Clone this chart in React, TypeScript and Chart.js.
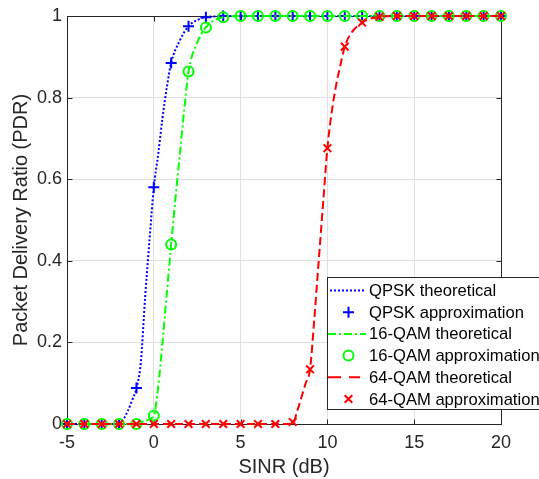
import React, { useEffect, useRef } from 'react';
import { Chart, registerables } from 'chart.js';

Chart.register(...registerables);

// ---------- data ----------
const sinr = [-5, -4, -3, -2, -1, 0, 1, 2, 3, 4, 5, 6, 7, 8, 9, 10, 11, 12, 13, 14, 15, 16, 17, 18, 19, 20];

const qpskApprox = [0, 0, 0, 0, 0.088, 0.58, 0.885, 0.975, 0.997, 1, 1, 1, 1, 1, 1, 1, 1, 1, 1, 1, 1, 1, 1, 1, 1, 1];
const qam16Approx = [0, 0, 0, 0, 0, 0.02, 0.44, 0.864, 0.972, 0.997, 1, 1, 1, 1, 1, 1, 1, 1, 1, 1, 1, 1, 1, 1, 1, 1];
const qam64Approx = [0, 0, 0, 0, 0, 0, 0, 0, 0, 0, 0, 0, 0, 0.005, 0.134, 0.676, 0.925, 0.984, 0.998, 1, 1, 1, 1, 1, 1, 1];

const qpskTheoX = [-5, -4, -3, -2, -1.75, -1.5, -1.25, -1, -0.75, -0.5, -0.25, 0, 0.25, 0.5, 0.75, 1, 1.5, 2, 2.5, 3, 3.5, 4, 5, 10, 15, 20];
const qpskTheoY = [0, 0, 0, 0, 0.012, 0.032, 0.058, 0.088, 0.15, 0.31, 0.45, 0.58, 0.66, 0.75, 0.825, 0.885, 0.94, 0.975, 0.99, 0.997, 0.999, 1, 1, 1, 1, 1];

const qam16TheoX = [-5, -4, -3, -2, -1, -0.5, 0, 0.25, 0.5, 0.75, 1, 1.25, 1.5, 1.75, 2, 2.5, 3, 3.5, 4, 5, 10, 15, 20];
const qam16TheoY = [0, 0, 0, 0, 0, 0.008, 0.02, 0.09, 0.2, 0.32, 0.44, 0.555, 0.66, 0.77, 0.864, 0.935, 0.972, 0.99, 0.997, 1, 1, 1, 1];

const qam64TheoX = [-5, 0, 5, 8, 8.25, 8.5, 8.75, 9, 9.25, 9.5, 9.75, 10, 10.25, 10.5, 10.75, 11, 11.25, 11.5, 12, 12.5, 13, 14, 15, 20];
const qam64TheoY = [0, 0, 0, 0, 0.03, 0.065, 0.1, 0.134, 0.26, 0.4, 0.54, 0.676, 0.765, 0.83, 0.88, 0.925, 0.95, 0.965, 0.984, 0.994, 0.998, 1, 1, 1];

const xTicks = [-5, 0, 5, 10, 15, 20];
const yTicks = [0, 0.2, 0.4, 0.6, 0.8, 1];

const seriesLabels = [
  'QPSK theoretical',
  'QPSK approximation',
  '16-QAM theoretical',
  '16-QAM approximation',
  '64-QAM theoretical',
  '64-QAM approximation',
];

const xTitle = 'SINR (dB)';
const yTitle = 'Packet Delivery Ratio (PDR)';

// ---------- styles ----------
const BLUE = '#0000ff';
const GREEN = '#00ff00';
const RED = '#ff0000';
const AXIS = '#262626';
const FONT = "'Liberation Sans', Arial, Helvetica, sans-serif";

const toXY = (xs: number[], ys: number[]) => xs.map((x, i) => ({ x, y: ys[i] }));

function drawMarker(ctx: CanvasRenderingContext2D, kind: string, x: number, y: number, color: string) {
  ctx.save();
  ctx.strokeStyle = color;
  ctx.lineWidth = 2;
  ctx.beginPath();
  if (kind === 'cross') {
    const r = 5.5;
    ctx.moveTo(x - r, y); ctx.lineTo(x + r, y);
    ctx.moveTo(x, y - r); ctx.lineTo(x, y + r);
  } else if (kind === 'circle') {
    ctx.arc(x, y, 5, 0, Math.PI * 2);
  } else {
    const r = 3.8;
    ctx.moveTo(x - r, y - r); ctx.lineTo(x + r, y + r);
    ctx.moveTo(x - r, y + r); ctx.lineTo(x + r, y - r);
  }
  ctx.stroke();
  ctx.restore();
}

const boxPlugin = {
  id: 'matlabBox',
  beforeDatasetsDraw(chart: any) {
    const { ctx, scales } = chart;
    const xs = scales.x;
    const ys = scales.y;
    const L = Math.round(xs.getPixelForValue(xTicks[0])) + 0.5;
    const R = Math.round(xs.getPixelForValue(xTicks[xTicks.length - 1])) + 0.5;
    const B = Math.round(ys.getPixelForValue(yTicks[0])) + 0.5;
    const T = Math.round(ys.getPixelForValue(yTicks[yTicks.length - 1])) + 0.5;
    ctx.save();
    ctx.strokeStyle = AXIS;
    ctx.lineWidth = 1;
    ctx.strokeRect(L, T, R - L, B - T);
    ctx.beginPath();
    const tl = 5;
    xTicks.forEach((v) => {
      const p = Math.round(xs.getPixelForValue(v)) + 0.5;
      ctx.moveTo(p, B); ctx.lineTo(p, B - tl);
      ctx.moveTo(p, T); ctx.lineTo(p, T + tl);
    });
    yTicks.forEach((v) => {
      const p = Math.round(ys.getPixelForValue(v)) + 0.5;
      ctx.moveTo(L, p); ctx.lineTo(L + tl, p);
      ctx.moveTo(R, p); ctx.lineTo(R - tl, p);
    });
    ctx.stroke();
    ctx.restore();
  },
};

const legendPlugin = {
  id: 'matlabLegend',
  afterDraw(chart: any) {
    const { ctx } = chart;
    const left = 327.5;
    const top = 277.5;
    const bottom = 409.5;
    const rowH = 21.7;
    const firstRow = 290.5;
    ctx.save();
    ctx.fillStyle = '#ffffff';
    ctx.fillRect(left, top, 400, bottom - top);
    ctx.strokeStyle = AXIS;
    ctx.lineWidth = 1;
    ctx.strokeRect(left, top, 400, bottom - top);

    chart.data.datasets.forEach((ds: any, i: number) => {
      const y = firstRow + i * rowH;
      if (ds.showLine !== false) {
        ctx.save();
        ctx.strokeStyle = ds.borderColor;
        ctx.lineWidth = 2;
        let dash = ds.borderDash || [];
        let x0 = 330;
        let x1 = 366;
        if (ds.label.startsWith('64')) { dash = [13, 8]; x0 = 328; x1 = 360; }
        if (ds.label.startsWith('16')) { x0 = 328; }
        ctx.setLineDash(dash);
        ctx.beginPath();
        ctx.moveTo(x0, y);
        ctx.lineTo(x1, y);
        ctx.stroke();
        ctx.restore();
      } else {
        drawMarker(ctx, ds.pointStyle === 'cross' ? 'cross' : ds.pointStyle === 'circle' ? 'circle' : 'x', 348.5, y, ds.borderColor);
      }
      ctx.fillStyle = '#000000';
      ctx.font = `16.6px ${FONT}`;
      ctx.textBaseline = 'middle';
      ctx.textAlign = 'left';
      ctx.fillText(ds.label, 369, y + 1);
    });
    ctx.restore();
  },
};

export default function App() {
  const canvasRef = useRef<HTMLCanvasElement | null>(null);

  useEffect(() => {
    const canvas = canvasRef.current;
    if (!canvas) return;

    const lineCommon = {
      showLine: true,
      pointRadius: 0,
      borderWidth: 2,
      fill: false,
      cubicInterpolationMode: 'monotone' as const,
      clip: false as const,
    };
    const markerCommon = {
      showLine: false,
      pointBorderWidth: 2,
      pointBackgroundColor: 'rgba(0,0,0,0)',
      clip: false as const,
    };

    const chart = new Chart(canvas, {
      type: 'scatter',
      data: {
        datasets: [
          { ...lineCommon, label: seriesLabels[0], data: toXY(qpskTheoX, qpskTheoY), borderColor: BLUE, borderDash: [2, 2], order: 0 },
          { ...markerCommon, label: seriesLabels[1], data: toXY(sinr, qpskApprox), borderColor: BLUE, pointStyle: 'cross', pointRadius: 5.5, order: -1 },
          { ...lineCommon, label: seriesLabels[2], data: toXY(qam16TheoX, qam16TheoY), borderColor: GREEN, borderDash: [8, 3, 2, 3], order: -2 },
          { ...markerCommon, label: seriesLabels[3], data: toXY(sinr, qam16Approx), borderColor: GREEN, pointStyle: 'circle', pointRadius: 5, order: -3 },
          { ...lineCommon, label: seriesLabels[4], data: toXY(qam64TheoX, qam64TheoY), borderColor: RED, borderDash: [8, 4], order: -4 },
          { ...markerCommon, label: seriesLabels[5], data: toXY(sinr, qam64Approx), borderColor: RED, pointStyle: 'crossRot', pointRadius: 5.4, order: -5 },
        ] as any,
      },
      options: {
        responsive: false,
        animation: false,
        devicePixelRatio: 1,
        events: [],
        layout: { padding: { top: 16, right: 38, left: 0, bottom: 0 } },
        plugins: {
          legend: { display: false },
          tooltip: { enabled: false },
        },
        scales: {
          x: {
            type: 'linear',
            min: -5,
            max: 20,
            afterBuildTicks: (s: any) => { s.ticks = xTicks.map((v) => ({ value: v })); },
            afterFit: (s: any) => { s.height = 55; },
            grid: { color: '#e0e0e0', lineWidth: 1, drawTicks: false },
            border: { display: false },
            ticks: {
              color: AXIS,
              font: { family: FONT, size: 18 },
              padding: 8,
              maxRotation: 0,
              callback: (v: any) => String(v),
            },
            title: {
              display: true,
              text: xTitle,
              color: AXIS,
              font: { family: FONT, size: 20 },
              padding: { top: 0, bottom: 0 },
            },
          },
          y: {
            type: 'linear',
            min: 0,
            max: 1,
            afterBuildTicks: (s: any) => { s.ticks = yTicks.map((v) => ({ value: v })); },
            afterFit: (s: any) => { s.width = 67; },
            grid: { color: '#e0e0e0', lineWidth: 1, drawTicks: false },
            border: { display: false },
            ticks: {
              color: AXIS,
              font: { family: FONT, size: 18 },
              padding: 5,
              callback: (v: any) => String(Math.round(Number(v) * 10) / 10),
            },
            title: {
              display: true,
              text: yTitle,
              color: AXIS,
              font: { family: FONT, size: 20 },
              padding: { top: 9, bottom: 0 },
            },
          },
        },
      } as any,
      plugins: [boxPlugin, legendPlugin],
    });

    return () => {
      chart.destroy();
    };
  }, []);

  return (
    <div style={{ position: 'absolute', left: 0, top: 0, width: 539, height: 479, overflow: 'hidden', background: '#fff' }}>
      <canvas ref={canvasRef} width={539} height={479} style={{ display: 'block', width: 539, height: 479 }} />
    </div>
  );
}
